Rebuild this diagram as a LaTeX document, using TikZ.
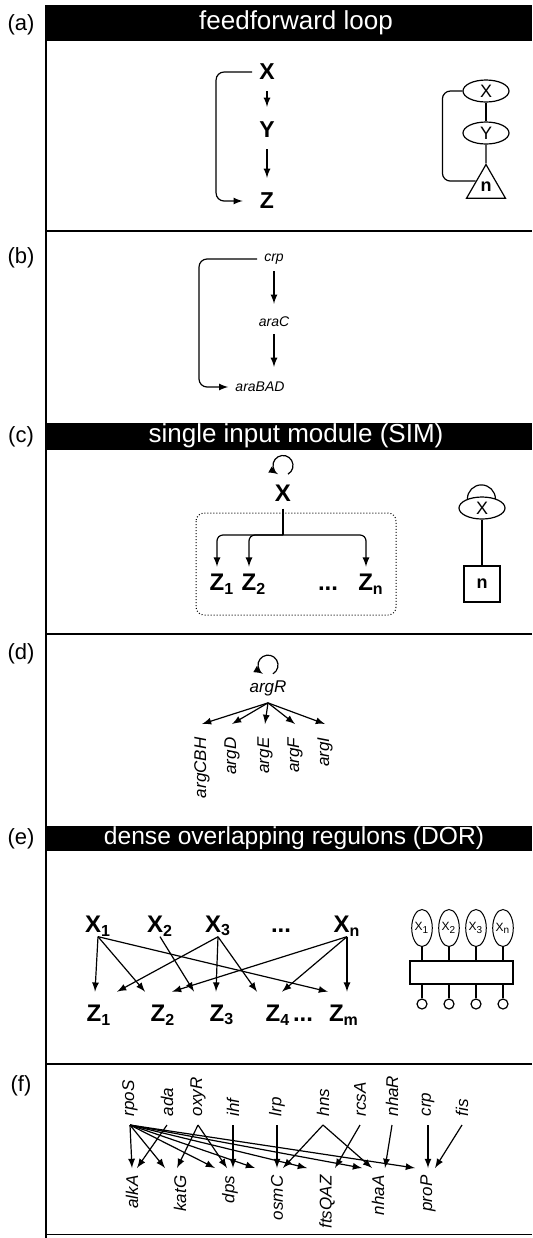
\documentclass[tikz,border=0pt]{standalone}
\usepackage{fontspec}
\setmainfont{Liberation Sans}
\usetikzlibrary{shapes.geometric,calc}

\tikzset{
	arr/.style={-latex},
	rule/.style={line width=1pt},
	tag/.style={font=\fontsize{11}{11}\selectfont},
	ttl/.style={text=white, font=\fontsize{13}{13}\selectfont},
	bigA/.style={font=\fontsize{11.5}{11.5}\selectfont\bfseries},
	bigB/.style={font=\fontsize{12}{12}\selectfont\bfseries},
	geneB/.style={font=\fontsize{7}{7}\selectfont\itshape},
	gene/.style={font=\fontsize{8.5}{8.5}\selectfont\itshape},
	gup/.style={gene, rotate=90, anchor=west, inner xsep=4pt},
	gdn/.style={gene, rotate=90, anchor=east, inner xsep=3.5pt},
	oval/.style={draw, ellipse, minimum width=23pt, minimum height=11pt, inner sep=0pt, font=\fontsize{9}{9}\selectfont},
	tri/.style={draw, regular polygon, regular polygon sides=3, minimum size=22.5pt, inner sep=0pt, font=\fontsize{9}{9}\selectfont\bfseries},
	sqr/.style={draw, minimum size=18pt, inner sep=0pt, font=\fontsize{9}{9}\selectfont\bfseries},
	vov/.style={draw, ellipse, minimum width=10pt, minimum height=18.5pt, inner sep=0pt, line width=0.5pt, font=\fontsize{6}{6}\selectfont},
}

\begin{document}
\begin{tikzpicture}[x=0.5pt, y=-0.5pt, line width=0.6pt]
	\useasboundingbox (0,0) rectangle (532,1238);
	\draw[rule] (46,5) -- (46,1238); % left rule
	\foreach \y in {231,634,1064} % panel rules
	\draw[rule] (46,\y) -- (532,\y);
	\draw[line width=0.5pt] (46,1234) -- (532,1234);

	% (a)
	\node[tag] (ta) at (21,25) {(a)};
	\fill (46,5) rectangle (532,41);
	\node[ttl] (ha) at (296,23) {feedforward loop};
	\node[bigA] (ax) at (267,72) {X};
	\node[bigA] (ay) at (267,130) {Y};
	\node[bigA] (az) at (267,201) {Z};
	\draw[arr, shorten <=2pt, shorten >=4pt] (ax) -- (ay);
	\draw[arr, shorten <=2pt, shorten >=4pt] (ay) -- (az);
	\draw[arr, rounded corners=4pt, shorten >=5pt] (ax.west) -- ++(-36,0) |- (az.west);
	\node[oval] (fx) at (486,91) {X};
	\node[oval] (fy) at (486,133) {Y};
	\node[tri] (fn) at (486,187) {n};
	\draw (fx) -- (fy);
	\draw (fy) -- (fn);
	\draw[rounded corners=4pt] (fx.west) -- ++(-20,0) |- (fn.150);

	% (b)
	\node[tag] (tb) at (21,258) {(b)};
	\node[geneB] (bcrp) at (274,259) {crp};
	\node[geneB] (bara) at (274,322) {araC};
	\node[geneB] (bbad) at (260,387) {araBAD};
	\draw[arr, shorten >=3pt] (bcrp) -- (bara);
	\draw[arr, shorten >=4pt] (bara.south) -- (bara.south |- bbad.north);
	\draw[arr, rounded corners=4pt] (bcrp.west) -- ++(-58,0) |- (bbad.west);

	% (c)
	\node[tag] (tc) at (21,437) {(c)};
	\fill (46,423) rectangle (532,450);
	\node[ttl] (hc) at (296,436) {single input module (SIM)};
	\node[bigB] (cx) at (283,493) {X};
	\coordinate (cloop) at ($(cx.north)+(0,-12)$);
	\draw[arr] ([shift={(-60:5pt)}]cloop) arc[start angle=-60, end angle=240, radius=5pt];
	\coordinate (chub) at ($(cx)+(0,42)$);
	\draw (cx) -- (chub);
	\node[bigB] (cz1) at (222,584) {Z\textsubscript{1}};
	\node[bigB] (cz2) at (254,584) {Z\textsubscript{2}};
	\node[bigB, anchor=base] (czd) at (328,0 |- cz1.base) {...};
	\node[bigB] (czn) at (371,584) {Z\textsubscript{n}};
	\foreach \z in {cz1,cz2,czn}
	\draw[arr, rounded corners=3pt] (chub) -| ([xshift=-2.5pt]\z.north);
	\draw[densely dotted, line width=0.5pt, rounded corners=4pt] (196,513) rectangle (396,615);
	\node[oval] (sx) at (482,508) {X};
	\node[sqr] (sn) at (482,584) {n};
	\draw (sx) -- (sn);
	\draw (sx.148) arc[start angle=180, end angle=0, radius=7pt];

	% (d)
	\node[tag] (td) at (21,654) {(d)};
	\node[gene] (dr) at (268,688) {argR};
	\coordinate (dloop) at ($(dr.north)+(0,-8)$);
	\draw[arr] ([shift={(-60:5pt)}]dloop) arc[start angle=-60, end angle=240, radius=5pt];
	\foreach \n/\x in {argCBH/202, argD/232, argE/265, argF/295, argI/325}{
		\node[gdn, inner xsep=6.5pt] (d\n) at (\x,724) {\n};
		\draw[arr] (dr.south) -- (d\n.east);
	}

	% (e)
	\node[tag] (te) at (21,839) {(e)};
	\fill (46,826) rectangle (532,851);
	\node[ttl, font=\fontsize{12.3}{12.3}\selectfont] (he) at (294,838) {dense overlapping regulons (DOR)};
	\foreach \n/\x in {1/98, 2/160, 3/218, n/347}
	\node[bigB, inner sep=0pt] (ex\n) at (\x,926) {X\textsubscript{\n}};
	\node[bigB, anchor=base] (exd) at (281,0 |- ex1.base) {...};
	\foreach \n/\x in {1/99, 2/163, 3/222, 4/278, m/344}
	\node[bigB] (ez\n) at (\x,1015) {Z\textsubscript{\n}};
	\node[bigB, anchor=base] (ezd) at (303,0 |- ez1.base) {...};
	\foreach \a/\b/\d in {1/1/-4, 1/2/-18, 1/m/-16, 2/3/-28, 3/1/18, 3/3/-6, 3/4/-21, n/m/3, n/2/9, n/4/4}
	\draw[arr] (ex\a.south) -- ($(ez\b.north)+(\d,-6)$);
	\node[draw, minimum width=51.5pt, minimum height=11.5pt, inner sep=0pt] (dbox) at (461.5,972.5) {};
	\foreach \i/\x/\s in {1/422/1, 2/449/2, 3/476/3, 4/503/n}{
		\node[vov] (ov\i) at (\x,928) {X\textsubscript{\s}};
		\node[draw, circle, minimum size=5pt, inner sep=0pt] (oc\i) at (\x,1004) {};
		\draw (ov\i) -- (ov\i |- dbox.north);
		\draw (oc\i) -- (oc\i |- dbox.south);
	}

	% (f)
	\node[tag] (tf) at (21,1086) {(f)};
	\foreach \n/\x in {rpoS/130, ada/167, oxyR/198, ihf/233, lrp/277, hns/323, rcsA/360, nhaR/392, crp/428, fis/462}
	\node[gup] (f\n) at (\x,1125) {\n};
	\foreach \n/\x in {alkA/132, katG/180, dps/230, osmC/277, ftsQAZ/327, nhaA/378, proP/428}
	\node[gdn] (f\n) at (\x,1168) {\n};
	\foreach \s/\t/\d in {rpoS/alkA/0, rpoS/katG/-15, rpoS/dps/-15, rpoS/osmC/-22, rpoS/ftsQAZ/-20, rpoS/nhaA/-16, rpoS/proP/-13, ada/alkA/5, oxyR/katG/-3, oxyR/dps/-3, ihf/dps/3, lrp/osmC/0, hns/osmC/6, hns/nhaA/-6, rcsA/ftsQAZ/8, nhaR/nhaA/7, crp/proP/0, fis/proP/7}
	\draw[arr] (f\s.west) -- ($(f\t.east)+(\d,0)$);
\end{tikzpicture}
\end{document}
